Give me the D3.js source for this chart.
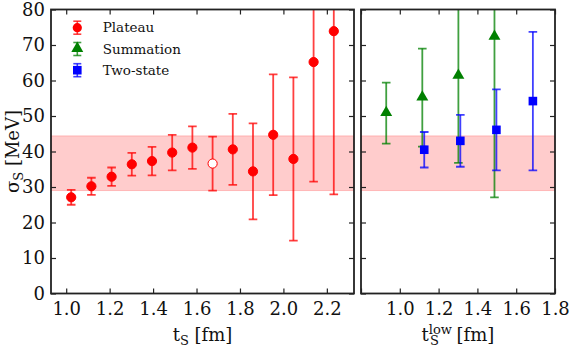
<!DOCTYPE html>
<html>
<head>
<meta charset="utf-8" />
<script src="https://cdnjs.cloudflare.com/ajax/libs/d3/7.8.5/d3.min.js"></script>
<style>
body { margin: 0; background: #fff; }
svg text { font-family: "DejaVu Serif", serif; fill: #111; }
</style>
</head>
<body>
<svg id="chart" width="570" height="350"></svg>
<script>
// plateau fits vs source-sink separation
var plateauT   = [1.023, 1.116, 1.209, 1.302, 1.395, 1.488, 1.581, 1.674, 1.767, 1.860, 1.953, 2.046, 2.139, 2.232];
var plateauVal = [27.1, 30.2, 32.9, 36.4, 37.3, 39.7, 41.1, 36.6, 40.6, 34.4, 44.7, 37.9, 65.2, 73.9];
var plateauErr = [2.1, 2.4, 2.6, 3.2, 4.0, 5.0, 6.0, 7.6, 10.0, 13.5, 17.0, 23.0, 33.7, 46.0];
var openIndex = 7;

// summation and two-state vs t_low
var summationT   = [0.930, 1.116, 1.302, 1.488];
var summationVal = [50.8, 55.2, 61.3, 72.3];
var summationErr = [8.6, 13.8, 24.5, 45.2];
var twoStateT    = [1.126, 1.312, 1.498, 1.686];
var twoStateVal  = [40.5, 43.0, 46.1, 54.2];
var twoStateErr  = [5.0, 7.3, 11.4, 19.5];

var band = [29.0, 44.4];

var leftTicks  = [1.0, 1.2, 1.4, 1.6, 1.8, 2.0, 2.2];
var rightTicks = [0.8, 1.0, 1.2, 1.4, 1.6, 1.8];
var yTicks     = [0, 10, 20, 30, 40, 50, 60, 70, 80];

var svg = d3.select("#chart");
var plotTop = 9.5, plotBottom = 293.5;

var y = d3.scaleLinear().domain([0, 80]).range([plotBottom, plotTop]);
var xL = d3.scaleLinear().domain([0.93, 2.325]).range([51, 354]);
var xR = d3.scaleLinear().domain([0.8, 1.8]).range([361, 555]);

function panel(id, x, xticks, showY, xlabelMain, xlabelSup, xlabelX) {
  var x0 = x.range()[0], x1 = x.range()[1];
  svg.append("clipPath").attr("id", id)
    .append("rect").attr("x", x0).attr("y", plotTop).attr("width", x1 - x0).attr("height", plotBottom - plotTop);
  var g = svg.append("g");
  var plot = g.append("g").attr("clip-path", "url(#" + id + ")");

  // band
  plot.append("rect")
    .attr("x", x0).attr("width", x1 - x0)
    .attr("y", y(band[1])).attr("height", y(band[0]) - y(band[1]))
    .attr("fill", "#ff0000").attr("fill-opacity", 0.2)
    .attr("stroke", "#ff0000").attr("stroke-opacity", 0.2).attr("stroke-width", 1);

  // axes with inward ticks
  var fmt = d3.format(".1f");
  var bAxis = d3.axisBottom(x).tickValues(xticks).tickSize(-5).tickPadding(8.5)
    .tickFormat(function(d) { return d < 0.9 ? "" : fmt(d); });
  var tAxis = d3.axisTop(x).tickValues(xticks).tickSize(-5).tickFormat("");
  var lAxis = d3.axisLeft(y).tickValues(yTicks).tickSize(-5).tickPadding(6)
    .tickFormat(showY ? d3.format("d") : "");
  var rAxis = d3.axisRight(y).tickValues(yTicks).tickSize(-5).tickFormat("");

  [[bAxis, "translate(0," + plotBottom + ")"], [tAxis, "translate(0," + plotTop + ")"],
   [lAxis, "translate(" + x0 + ",0)"], [rAxis, "translate(" + x1 + ",0)"]].forEach(function(a) {
    var ag = g.append("g").attr("transform", a[1]).call(a[0]);
    ag.select(".domain").remove();
    ag.selectAll(".tick line").attr("stroke", "#222").attr("stroke-width", 1.2);
    ag.selectAll("text").style("font-family", "DejaVu Serif").style("font-size", "18px").attr("fill", "#111");
  });

  g.append("rect").attr("x", x0).attr("y", plotTop).attr("width", x1 - x0).attr("height", plotBottom - plotTop)
    .attr("fill", "none").attr("stroke", "#222").attr("stroke-width", 1.8);

  var lab = g.append("text").attr("x", xlabelX).attr("y", 341).attr("text-anchor", "middle")
    .style("font-size", "18px");
  lab.append("tspan").text(xlabelMain);
  if (xlabelSup) {
    lab.append("tspan").attr("dy", -7).style("font-size", "13px").text(xlabelSup);
    lab.append("tspan").attr("dx", -22).attr("dy", 11).style("font-size", "13px").text("S");
    lab.append("tspan").attr("dx", 12).attr("dy", -4).text(" [fm]");
  } else {
    lab.append("tspan").attr("dy", 4).style("font-size", "13px").text("S");
    lab.append("tspan").attr("dy", -4).text(" [fm]");
  }
  return plot;
}

function errorBars(plot, x, ts, vals, errs, color) {
  var gg = plot.append("g").attr("stroke", color).attr("stroke-opacity", 0.75).attr("stroke-width", 1.8);
  ts.forEach(function(t, i) {
    var cx = x(t), lo = y(vals[i] - errs[i]), hi = y(vals[i] + errs[i]);
    gg.append("line").attr("x1", cx).attr("x2", cx).attr("y1", lo).attr("y2", hi);
    gg.append("line").attr("x1", cx - 4.3).attr("x2", cx + 4.3).attr("y1", lo).attr("y2", lo);
    gg.append("line").attr("x1", cx - 4.3).attr("x2", cx + 4.3).attr("y1", hi).attr("y2", hi);
  });
}

var plotL = panel("clipL", xL, leftTicks, true, "t", null, 202.5);
var plotR = panel("clipR", xR, rightTicks, false, "t", "low", 458);

// plateau
errorBars(plotL, xL, plateauT, plateauVal, plateauErr, "#ff0000");
plotL.selectAll("circle.p").data(plateauT).enter().append("circle")
  .attr("cx", function(d) { return xL(d); })
  .attr("cy", function(d, i) { return y(plateauVal[i]); })
  .attr("r", 4.6)
  .attr("fill", function(d, i) { return i === openIndex ? "#fff" : "#ff0000"; })
  .attr("stroke", "#ff0000").attr("stroke-width", 1);

// summation
errorBars(plotR, xR, summationT, summationVal, summationErr, "#008000");
var tri = d3.symbol().type(d3.symbolTriangle).size(62);
plotR.selectAll("path.s").data(summationT).enter().append("path")
  .attr("d", tri)
  .attr("transform", function(d, i) { return "translate(" + xR(d) + "," + (y(summationVal[i]) - 0.5) + ")"; })
  .attr("fill", "#008000");

// two-state
errorBars(plotR, xR, twoStateT, twoStateVal, twoStateErr, "#0000ff");
plotR.selectAll("rect.ts").data(twoStateT).enter().append("rect")
  .attr("x", function(d) { return xR(d) - 4.3; })
  .attr("y", function(d, i) { return y(twoStateVal[i]) - 4.3; })
  .attr("width", 8.6).attr("height", 8.6)
  .attr("fill", "#0000ff");

// y label
var yl = svg.append("text").attr("transform", "translate(19,151.5) rotate(-90)")
  .attr("text-anchor", "middle").style("font-size", "18px");
yl.append("tspan").text("σ");
yl.append("tspan").attr("dy", 4).style("font-size", "13px").text("S");
yl.append("tspan").attr("dy", -4).text(" [MeV]");

// legend
var legendNames = ["Plateau", "Summation", "Two-state"];
var legendColors = ["#ff0000", "#008000", "#0000ff"];
var legendY = [27.7, 49, 70.2];
var leg = svg.append("g");
legendNames.forEach(function(name, i) {
  var cy = legendY[i], cx = 77.3, c = legendColors[i];
  var eb = leg.append("g").attr("stroke", c).attr("stroke-opacity", 0.75).attr("stroke-width", 1.6);
  eb.append("line").attr("x1", cx).attr("x2", cx).attr("y1", cy - 6.5).attr("y2", cy + 6.5);
  eb.append("line").attr("x1", cx - 4).attr("x2", cx + 4).attr("y1", cy - 6.5).attr("y2", cy - 6.5);
  eb.append("line").attr("x1", cx - 4).attr("x2", cx + 4).attr("y1", cy + 6.5).attr("y2", cy + 6.5);
  if (i === 0) leg.append("circle").attr("cx", cx).attr("cy", cy).attr("r", 4.6).attr("fill", c);
  if (i === 1) leg.append("path").attr("d", tri).attr("transform", "translate(" + cx + "," + (cy - 0.5) + ")").attr("fill", c);
  if (i === 2) leg.append("rect").attr("x", cx - 4.3).attr("y", cy - 4.3).attr("width", 8.6).attr("height", 8.6).attr("fill", c);
  leg.append("text").attr("x", 102.7).attr("y", cy).attr("dy", "0.35em").style("font-size", "13.5px").text(name);
});
</script>
</body>
</html>
